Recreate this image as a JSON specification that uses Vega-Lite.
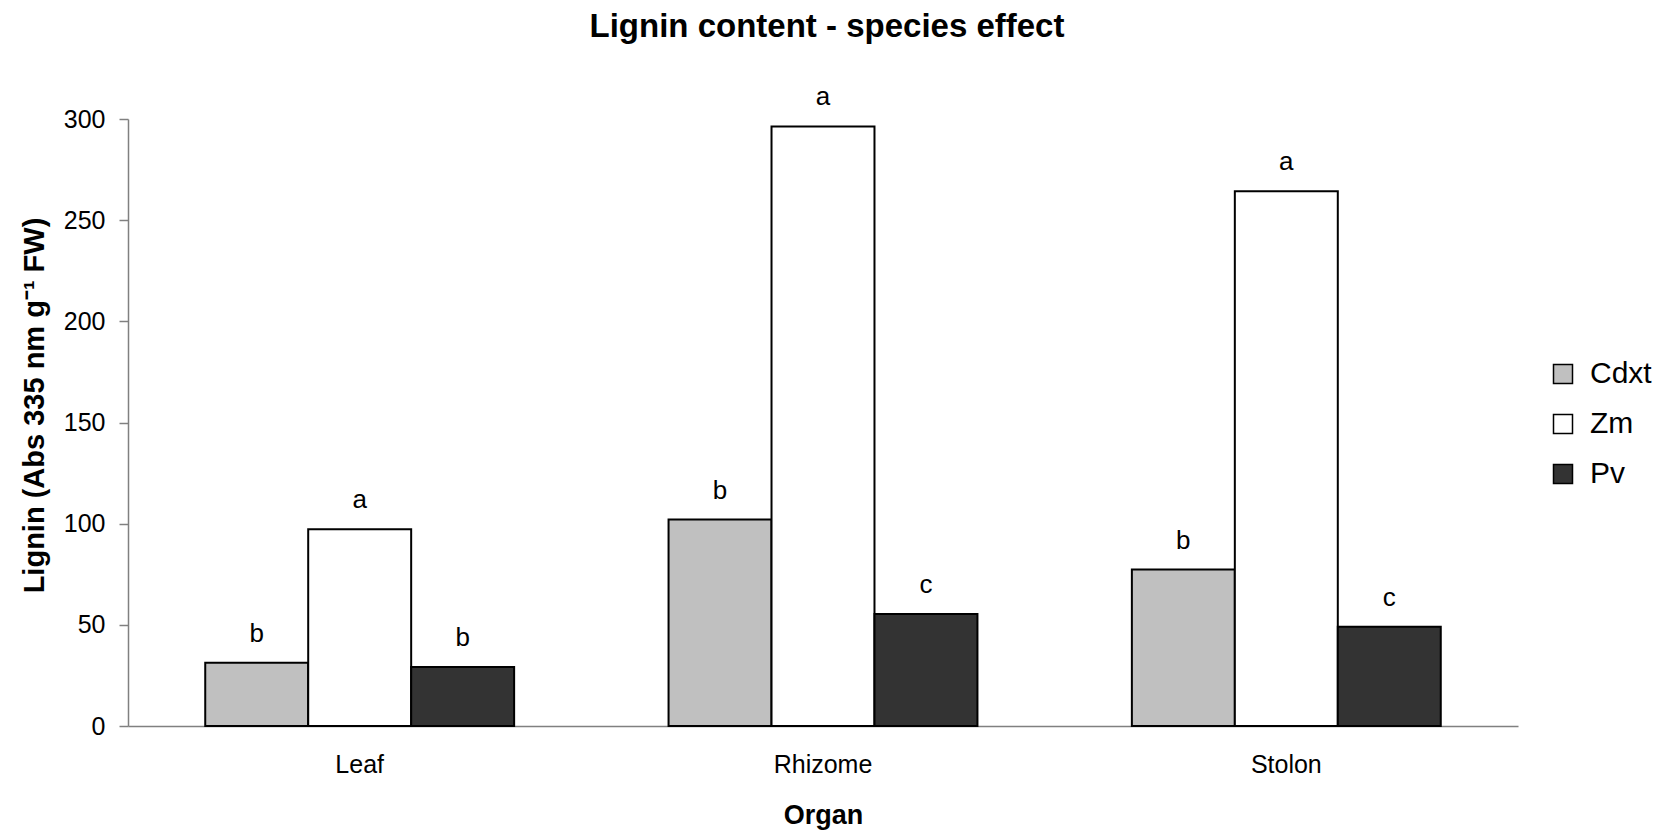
{
  "$schema": "https://vega.github.io/schema/vega-lite/v6.json",
  "width": 1390,
  "height": 607,
  "autosize": {"type": "none"},
  "padding": {"left": 128, "top": 119, "right": 143, "bottom": 106},
  "background": "white",
  "title": {
    "text": "Lignin content - species effect",
    "font": "Liberation Sans",
    "fontSize": 33,
    "fontWeight": "bold",
    "color": "black",
    "anchor": "middle",
    "offset": 40,
    "dx": 4
  },
  "data": {
    "values": [
      {"organ": "Leaf", "species": "Cdxt", "value": 31.3, "letter": "b"},
      {"organ": "Leaf", "species": "Zm", "value": 97.2, "letter": "a"},
      {"organ": "Leaf", "species": "Pv", "value": 29.2, "letter": "b"},
      {"organ": "Rhizome", "species": "Cdxt", "value": 102, "letter": "b"},
      {"organ": "Rhizome", "species": "Zm", "value": 296.3, "letter": "a"},
      {"organ": "Rhizome", "species": "Pv", "value": 55.3, "letter": "c"},
      {"organ": "Stolon", "species": "Cdxt", "value": 77.3, "letter": "b"},
      {"organ": "Stolon", "species": "Zm", "value": 264.3, "letter": "a"},
      {"organ": "Stolon", "species": "Pv", "value": 49, "letter": "c"}
    ]
  },
  "encoding": {
    "x": {
      "field": "organ",
      "type": "nominal",
      "sort": ["Leaf", "Rhizome", "Stolon"],
      "scale": {"paddingInner": 0.3333, "paddingOuter": 0.1667},
      "axis": {
        "title": "Organ",
        "titleFont": "Liberation Sans",
        "titleFontSize": 27,
        "titleFontWeight": "bold",
        "titleColor": "black",
        "titleBaseline": "alphabetic",
        "titleY": 97,
        "labelFont": "Liberation Sans",
        "labelFontSize": 25,
        "labelColor": "black",
        "labelAngle": 0,
        "labelPadding": 26,
        "ticks": false,
        "tickSize": 0,
        "domainColor": "#808080",
        "domainWidth": 1.5
      }
    },
    "xOffset": {
      "field": "species",
      "sort": ["Cdxt", "Zm", "Pv"],
      "scale": {"paddingInner": 0, "paddingOuter": 0}
    },
    "y": {
      "field": "value",
      "type": "quantitative",
      "scale": {"domain": [0, 300], "nice": false},
      "axis": {
        "values": [0, 50, 100, 150, 200, 250, 300],
        "grid": false,
        "title": "Lignin (Abs 335 nm g⁻¹ FW)",
        "titleFont": "Liberation Sans",
        "titleFontSize": 29,
        "titleFontWeight": "bold",
        "titleColor": "black",
        "titleAngle": 270,
        "titleAlign": "center",
        "titleBaseline": "middle",
        "titleX": -94,
        "titleY": 286,
        "labelFont": "Liberation Sans",
        "labelFontSize": 25,
        "labelColor": "black",
        "labelPadding": 14,
        "tickSize": 9,
        "tickColor": "#808080",
        "tickWidth": 1.5,
        "domainColor": "#808080",
        "domainWidth": 1.5
      }
    }
  },
  "layer": [
    {
      "mark": {"type": "bar", "stroke": "black", "strokeWidth": 2},
      "encoding": {
        "color": {
          "field": "species",
          "type": "nominal",
          "scale": {"domain": ["Cdxt", "Zm", "Pv"], "range": ["#c0c0c0", "#ffffff", "#333333"]},
          "legend": {
            "title": null,
            "orient": "none",
            "legendX": 1420,
            "legendY": 240,
            "symbolType": "square",
            "symbolSize": 361,
            "symbolStrokeColor": "black",
            "symbolStrokeWidth": 1.5,
            "symbolOpacity": 1,
            "labelFont": "Liberation Sans",
            "labelFontSize": 30,
            "labelColor": "black",
            "labelOffset": 12,
            "rowPadding": 20
          }
        }
      }
    },
    {
      "mark": {"type": "text", "dy": -21, "baseline": "alphabetic", "align": "center", "font": "Liberation Sans", "fontSize": 26, "color": "black"},
      "encoding": {"text": {"field": "letter"}}
    }
  ],
  "config": {"view": {"stroke": null}}
}
